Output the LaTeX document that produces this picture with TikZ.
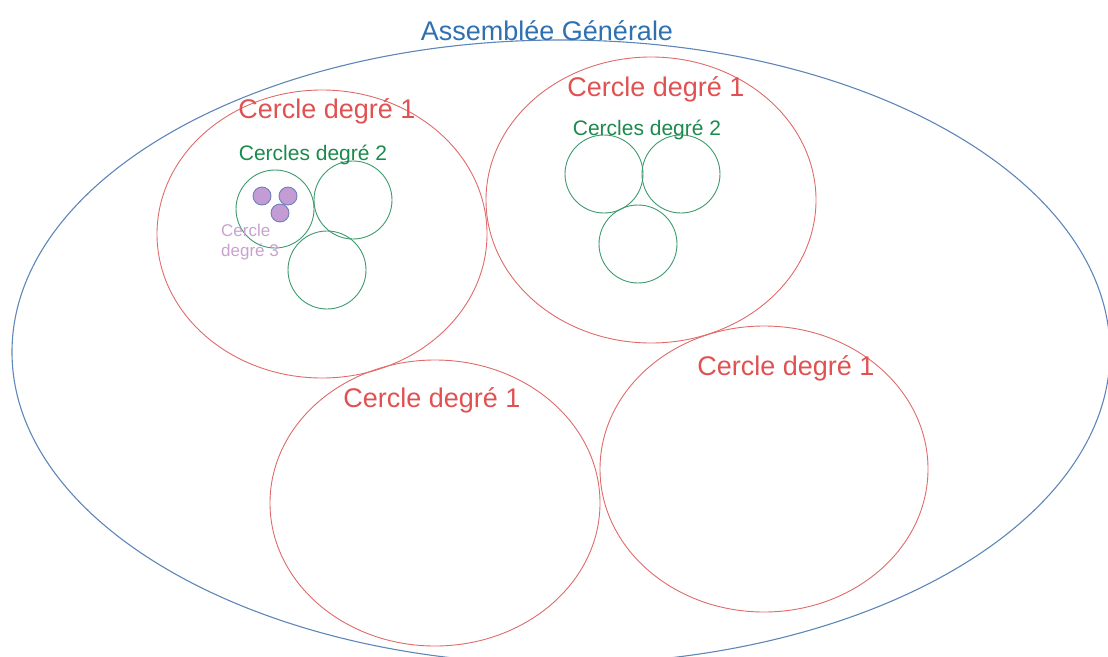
\documentclass[tikz,border=0pt]{standalone}
\usepackage{fontspec}
\setmainfont{Liberation Sans}
\usepackage{xcolor}
\usepackage{tikz}

\definecolor{agline}{HTML}{5E86B8}
\definecolor{agtext}{HTML}{2E70B0}
\definecolor{deglline}{HTML}{E06A6A}
\definecolor{degltext}{HTML}{E05252}
\definecolor{degiiline}{HTML}{3C9A6C}
\definecolor{degiitext}{HTML}{1B8A4C}
\definecolor{degiiifill}{HTML}{C29CD2}
\definecolor{degiiiline}{HTML}{6F7FC0}
\definecolor{degiiitext}{HTML}{C8A2CF}

\begin{document}
\begin{tikzpicture}[x=1pt, y=-1pt,
    titre/.style={text=agtext, font=\fontsize{27}{32}\selectfont},
    deg1/.style={text=degltext, font=\fontsize{27}{32}\selectfont},
    deg2/.style={text=degiitext, font=\fontsize{21}{25}\selectfont},
    deg3/.style={text=degiiitext, font=\fontsize{17}{20}\selectfont, align=left}]
    \useasboundingbox (0,0) rectangle (1108,656);

    % Assemblee generale
    \draw[agline, line width=1.1pt] (561,352) ellipse [x radius=549pt, y radius=312pt];
    \node[titre] (ag) at (547,31) {Assemblée Générale};

    % Cercles degre 1
    \draw[deglline, line width=0.9pt] (322,234) ellipse [x radius=165pt, y radius=144pt];
    \draw[deglline, line width=0.9pt] (651,200) ellipse [x radius=165pt, y radius=143pt];
    \draw[deglline, line width=0.9pt] (435,503) ellipse [x radius=165pt, y radius=143pt];
    \draw[deglline, line width=0.9pt] (764,469) ellipse [x radius=164pt, y radius=143pt];
    \node[deg1] (c1a) at (327,111) {Cercle degré 1};
    \node[deg1] (c1b) at (656,89) {Cercle degré 1};
    \node[deg1] (c1c) at (432,400) {Cercle degré 1};
    \node[deg1] (c1d) at (786,368) {Cercle degré 1};

    % Cercles degre 2
    \foreach \cx/\cy in {275/209, 353/200, 327/270, 604/174, 681/174, 638/244}
        \draw[degiiline, line width=0.9pt] (\cx,\cy) circle (39pt);
    \node[deg2] (c2a) at (313,155) {Cercles degré 2};
    \node[deg2] (c2b) at (647,130) {Cercles degré 2};

    % Cercles degre 3
    \foreach \cx/\cy in {262/196, 288/196, 280/213}
        \draw[degiiiline, fill=degiiifill, line width=0.9pt] (\cx,\cy) circle (9pt);
    \node[deg3, anchor=west, inner sep=0pt] (c3) at (221,242) {Cercle\\degré 3};
\end{tikzpicture}
\end{document}
